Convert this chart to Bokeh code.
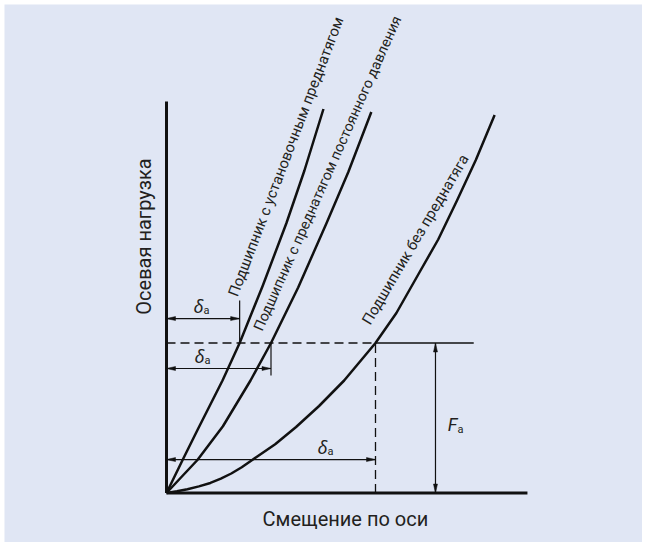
from bokeh.plotting import figure
from bokeh.models import Range1d, Label
from bokeh.embed import file_html
from bokeh.resources import INLINE

# ---------------- data (displacement in units of δa of the bearing without preload,
# load in units of Fa) ----------------
set_x = [0, 0.077, 0.15, 0.268, 0.35, 0.46, 0.574, 0.66, 0.751]
set_y = [0, 0.22, 0.425, 0.75, 1.0, 1.38, 1.8, 2.15, 2.56]

const_x = [0, 0.067, 0.148, 0.27, 0.402, 0.5, 0.63, 0.766, 0.87, 0.98]
const_y = [0, 0.10, 0.22, 0.445, 0.75, 1.0, 1.37, 1.8, 2.14, 2.54]

none_x = [0, 0.05, 0.10, 0.155, 0.21, 0.26, 0.31, 0.36, 0.41, 0.52, 0.62, 0.73, 0.85,
          1.0, 1.10, 1.21, 1.30, 1.39, 1.48, 1.57]
none_y = [0, 0.011, 0.025, 0.044, 0.067, 0.096, 0.13, 0.172, 0.22, 0.325, 0.44, 0.58, 0.75,
          1.0, 1.2, 1.47, 1.69, 1.95, 2.22, 2.52]

curve_names = ["Подшипник с установочным преднатягом",
               "Подшипник с преднатягом постоянного давления",
               "Подшипник без преднатяга"]
x_title = "Смещение по оси"
y_title = "Осевая нагрузка"

Fa = 1.0
delta_set, delta_const, delta_none = 0.35, 0.5, 1.0
x_axis_end, y_axis_end = 1.727, 2.61
arrow_levels = [1.163, 0.83, 0.223]      # heights of the δa dimension arrows
tick_set_top, tick_const_bottom = 1.283, 0.783
fa_line_end, fa_arrow_x = 1.47, 1.287

# ---------------- layout ----------------
W, H = 642, 542
SX, SY = 209.0, 150.0          # pixels per unit
OX, OY = 166.0, 492.5          # origin inside the canvas
BG = "#e0e6f4"
INK = "#111111"
TXT = "#231f20"

p = figure(width=W, height=H, output_backend="svg", toolbar_location=None,
           x_axis_type=None, y_axis_type=None, min_border=0,
           x_range=Range1d(-OX / SX, (W - OX) / SX),
           y_range=Range1d(-(H - OY) / SY, OY / SY))
p.grid.visible = False
p.outline_line_color = None
p.background_fill_color = "white"
p.border_fill_color = "white"

# panel background (starts 4 px in from the top-left corner)
p.quad(left=(4 - OX) / SX, right=(W - OX) / SX, bottom=-(H - OY) / SY, top=(OY - 4) / SY,
       fill_color=BG, line_color=None)

# axes
p.line([0, 0], [0, y_axis_end], line_color=INK, line_width=3)
p.line([0, x_axis_end], [0, 0], line_color=INK, line_width=3)

# curves
for xs, ys in [(set_x, set_y), (const_x, const_y), (none_x, none_y)]:
    p.line(xs, ys, line_color=INK, line_width=2.5, line_join="round")

# Fa level: dashed up to the no-preload curve, solid beyond
p.line([0, delta_none], [Fa, Fa], line_color=INK, line_width=1.3, line_dash="9 5")
p.line([delta_none, fa_line_end], [Fa, Fa], line_color=INK, line_width=1.3)
p.line([delta_none, delta_none], [0, Fa], line_color=INK, line_width=1.3, line_dash="9 5")

# extension ticks for δa of preloaded bearings
p.line([delta_set, delta_set], [Fa, tick_set_top], line_color=INK, line_width=1.2)
p.line([delta_const, delta_const], [tick_const_bottom, Fa], line_color=INK, line_width=1.2)

# dimension arrows
HL, HW = 9.0, 2.0   # arrow head length / half width in px


def harrow(x0, x1, y):
    p.line([x0, x1], [y, y], line_color=INK, line_width=1.2)
    xs = [[x0, x0 + HL / SX, x0 + HL / SX], [x1, x1 - HL / SX, x1 - HL / SX]]
    ys = [[y, y + HW / SY, y - HW / SY], [y, y + HW / SY, y - HW / SY]]
    p.patches(xs, ys, fill_color=INK, line_color=INK, line_width=0.5)


def varrow(x, y0, y1):
    p.line([x, x], [y0, y1], line_color=INK, line_width=1.2)
    xs = [[x, x + HW / SX, x - HW / SX], [x, x + HW / SX, x - HW / SX]]
    ys = [[y0, y0 + HL / SY, y0 + HL / SY], [y1, y1 - HL / SY, y1 - HL / SY]]
    p.patches(xs, ys, fill_color=INK, line_color=INK, line_width=0.5)


harrow(0, delta_set, arrow_levels[0])
harrow(0, delta_const, arrow_levels[1])
harrow(0, delta_none, arrow_levels[2])
varrow(fa_arrow_x, 0, Fa)


def lab(text, x, y, size, angle=0, font="Roboto", style="normal", xo=0, yo=0):
    p.add_layout(Label(x=x, y=y, text=text, x_offset=xo, y_offset=yo,
                       text_font=font, text_font_size=f"{size}px", text_font_style=style,
                       text_color=TXT, text_align="center", text_baseline="middle",
                       angle=angle, angle_units="deg"))


# curve names along the curves
lab(curve_names[0], 0.572, 2.243, 15, angle=69.1)
lab(curve_names[1], 0.772, 2.13, 14.5, angle=66.0)
lab(curve_names[2], 1.191, 1.69, 15, angle=59.4)

# axis titles
lab(y_title, -0.11, 1.71, 20, angle=90)
lab(x_title, 0.856, -0.17, 20)

# δa labels
for xd, xa, yl in [(0.153, 0.191, arrow_levels[0]), (0.158, 0.196, arrow_levels[1]),
                   (0.746, 0.785, arrow_levels[2])]:
    lab("δ", xd, yl, 18, font="Noto Sans", style="italic", yo=13)
    lab("a", xa, yl, 11, yo=8)

# Fa label
lab("F", fa_arrow_x, 0.457, 18, font="Roboto", style="italic", xo=17)
lab("a", fa_arrow_x, 0.457, 11, xo=25, yo=-5)

open("out.html", "w").write(file_html(p, INLINE))
